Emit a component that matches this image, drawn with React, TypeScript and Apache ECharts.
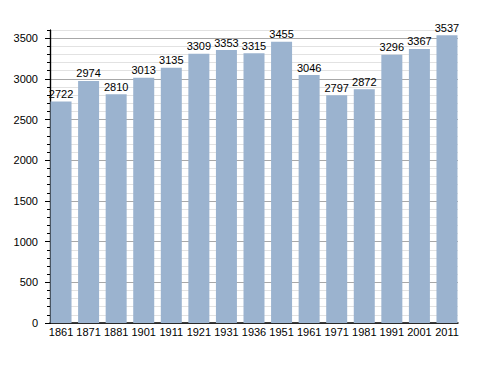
import React, { useEffect, useRef } from "react";
import * as echarts from "echarts";

const years = ["1861", "1871", "1881", "1901", "1911", "1921", "1931", "1936", "1951", "1961", "1971", "1981", "1991", "2001", "2011"];
const population = [2722, 2974, 2810, 3013, 3135, 3309, 3353, 3315, 3455, 3046, 2797, 2872, 3296, 3367, 3537];
const yMajorTicks = [0, 500, 1000, 1500, 2000, 2500, 3000, 3500];

export default function App() {
  const ref = useRef<HTMLDivElement>(null);
  useEffect(() => {
    if (!ref.current) return;
    const chart = echarts.init(ref.current, null, { renderer: "svg" });
    const font = "Liberation Sans, Arial, sans-serif";
    chart.setOption({
      animation: false,
      backgroundColor: "#ffffff",
      grid: { left: 50, right: 30, top: 30, bottom: 50 },
      xAxis: {
        type: "value",
        min: -0.4,
        max: 14.4,
        splitLine: { show: false },
        axisTick: { show: false },
        axisLine: { show: true, onZero: false, lineStyle: { color: "#000", width: 1.5 } },
        axisLabel: {
          customValues: years.map((_, i) => i),
          formatter: (v: number) => years[Math.round(v)] ?? "",
          color: "#000",
          fontFamily: font,
          fontSize: 11,
          margin: 3,
        },
      },
      yAxis: [
        {
          type: "value",
          min: 0,
          max: 3600,
          interval: 100,
          axisLine: { show: true, onZero: false, lineStyle: { color: "#000", width: 1.2 } },
          axisTick: { show: true, length: 3, lineStyle: { color: "#000" } },
          axisLabel: { show: false },
          splitLine: {
            show: true,
            lineStyle: { color: ["#a8a8a8", "#e2e2e2", "#e2e2e2", "#e2e2e2", "#e2e2e2"], width: 1 },
          },
        },
        {
          type: "value",
          position: "left",
          min: 0,
          max: 3600,
          interval: 500,
          axisLine: { show: true, onZero: false, lineStyle: { color: "#000", width: 1.2 } },
          axisTick: { show: true, length: 5, customValues: yMajorTicks, lineStyle: { color: "#000" } },
          axisLabel: {
            customValues: yMajorTicks,
            formatter: (v: number) => String(v),
            color: "#000",
            fontFamily: font,
            fontSize: 11,
            margin: 12,
          },
          splitLine: { show: false },
        },
      ],
      series: [
        {
          type: "bar",
          yAxisIndex: 0,
          barWidth: 21,
          data: population.map((v, i) => [i, v]),
          itemStyle: { color: "#9bb3cf" },
          label: {
            show: true,
            position: "top",
            distance: 2,
            color: "#000",
            fontFamily: font,
            fontSize: 11,
            formatter: (p: any) => String(p.value[1]),
          },
        },
      ],
    });
    return () => chart.dispose();
  }, []);
  return <div ref={ref} style={{ position: "fixed", left: 0, top: 0, width: 488, height: 373 }} />;
}
